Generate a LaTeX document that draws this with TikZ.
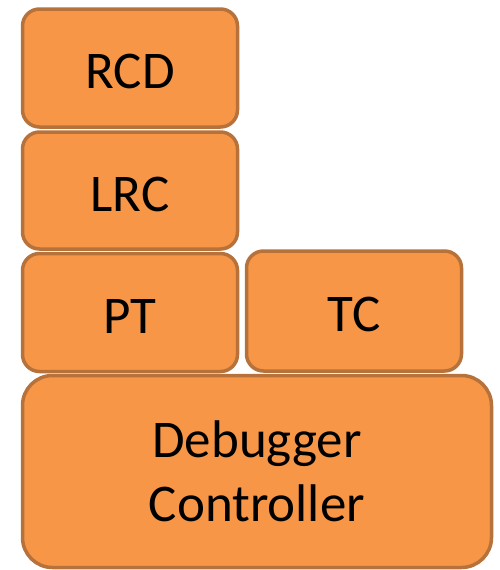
\documentclass[tikz,border=0pt]{standalone}
\usepackage{fontspec}
\setmainfont{Carlito}
\definecolor{blockfill}{HTML}{F79646}
\definecolor{blockline}{HTML}{B6723A}
\begin{document}
\begin{tikzpicture}[x=1pt,y=-1pt,
  block/.style={draw=blockline, fill=blockfill, line width=3.5pt,
    rounded corners=17pt, inner sep=0pt, align=center,
    font=\fontsize{53}{64}\selectfont, text=black},
  oneline/.style={text height=41pt, text depth=0pt},
]
\useasboundingbox (0,0) rectangle (499,570);
\node[block, oneline, minimum width=215pt, minimum height=118pt] (rcd) at (130,68) {RCD};
\node[block, oneline, minimum width=215pt, minimum height=117pt] (lrc) at (130,190.5) {LRC};
\node[block, oneline, minimum width=215pt, minimum height=118pt] (pt) at (130,312.5) {PT};
\node[block, oneline, minimum width=215pt, minimum height=120pt] (tc) at (354,311) {TC};
\node[block, rounded corners=30pt, minimum width=469pt, minimum height=192pt] (dc) at (257,471.5) {Debugger\\Controller};
\end{tikzpicture}
\end{document}
